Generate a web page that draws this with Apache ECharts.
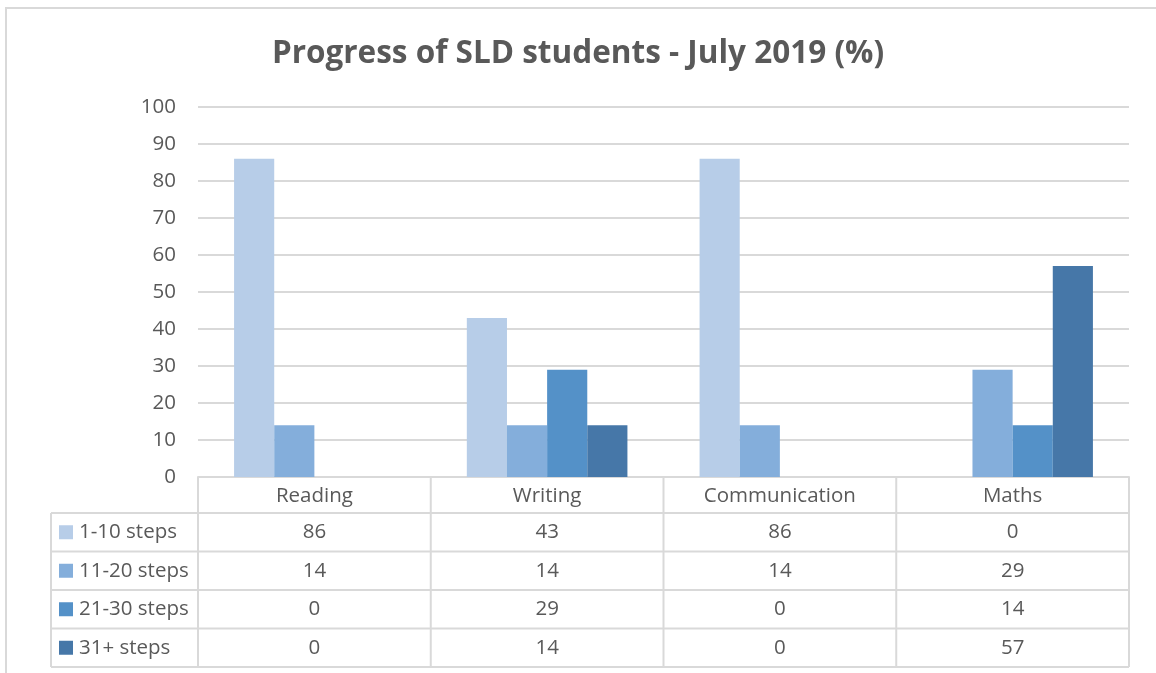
<!DOCTYPE html>
<html>
<head>
<meta charset="utf-8">
<script src="https://cdn.jsdelivr.net/npm/echarts@6/dist/echarts.min.js"></script>
<style>
html,body{margin:0;padding:0;background:#fff;}
#main{width:1156px;height:673px;}
</style>
</head>
<body>
<div id="main"></div>
<script>
var categories = ['Reading', 'Writing', 'Communication', 'Maths'];
var seriesNames = ['1-10 steps', '11-20 steps', '21-30 steps', '31+ steps'];
var steps1to10 = [86, 43, 86, 0];
var steps11to20 = [14, 14, 14, 29];
var steps21to30 = [0, 29, 0, 14];
var steps31plus = [0, 14, 0, 57];
var yTicks = [0, 10, 20, 30, 40, 50, 60, 70, 80, 90, 100];

var colors = ['#B7CDE8', '#84AEDB', '#5491C8', '#4677A8'];
var allData = [steps1to10, steps11to20, steps21to30, steps31plus];
var font = '"Open Sans", "Liberation Sans", sans-serif';
var textColor = '#595959';
var lineColor = '#D9D9D9';
var fs = 20.5;

// table geometry
var tblLeft = 51, plotLeft = 198, plotRight = 1129;
var headTop = 477, headBottom = 513, rowH = 38.5;

function buildTable(){
	var g = [];
	// outer frame of the chart
	g.push({type:'rect', shape:{x:6, y:8, width:1200, height:700},
		style:{fill:'none', stroke:lineColor, lineWidth:2}, silent:true});
	var colW = (plotRight - plotLeft) / categories.length;
	var bottom = headBottom + rowH * seriesNames.length;
	g.push({type:'line', shape:{x1:plotLeft, y1:headTop, x2:plotLeft, y2:bottom}, style:{stroke:lineColor, lineWidth:2}});
	for (var c = 1; c <= categories.length; c++){
		var x = plotLeft + colW * c;
		g.push({type:'line', shape:{x1:x, y1:headTop, x2:x, y2:bottom}, style:{stroke:lineColor, lineWidth:2}});
	}
	g.push({type:'line', shape:{x1:tblLeft, y1:headBottom, x2:tblLeft, y2:bottom}, style:{stroke:lineColor, lineWidth:2}});
	for (var r = 0; r <= seriesNames.length; r++){
		var y = headBottom + rowH * r;
		g.push({type:'line', shape:{x1:tblLeft, y1:y, x2:plotRight, y2:y}, style:{stroke:lineColor, lineWidth:2}});
	}
	for (var i = 0; i < seriesNames.length; i++){
		var cy = headBottom + rowH * i + rowH / 2;
		g.push({type:'rect', shape:{x:59, y:cy - 7, width:14, height:14}, style:{fill:colors[i]}});
		g.push({type:'text', x:79, y:cy, style:{text:seriesNames[i], font:fs + 'px ' + font, fill:textColor, verticalAlign:'middle', align:'left'}});
		for (var j = 0; j < categories.length; j++){
			g.push({type:'text', x:plotLeft + colW * (j + 0.5), y:cy,
				style:{text:String(allData[i][j]), font:fs + 'px ' + font, fill:textColor, align:'center', verticalAlign:'middle'}});
		}
	}
	return g;
}

var series = [];
for (var k = 0; k < seriesNames.length; k++){
	series.push({
		name: seriesNames[k],
		type: 'bar',
		data: allData[k],
		barGap: '0%',
		barCategoryGap: '31%',
		itemStyle: {color: colors[k]},
		silent: true
	});
}

var option = {
	animation: false,
	backgroundColor: '#fff',
	title: {
		text: 'Progress of SLD students - July 2019 (%)',
		left: 'center',
		top: 33,
		textStyle: {fontFamily: font, fontWeight: 'bold', fontSize: 31.5, color: textColor}
	},
	grid: {left: plotLeft, right: 1156 - plotRight, top: 107, bottom: 673 - headTop},
	xAxis: {
		type: 'category',
		data: categories,
		axisLine: {lineStyle: {color: lineColor, width: 2}},
		axisTick: {show: false},
		axisLabel: {fontFamily: font, fontSize: fs, color: textColor, margin: 9}
	},
	yAxis: {
		type: 'value',
		min: yTicks[0],
		max: yTicks[yTicks.length - 1],
		interval: 10,
		axisLine: {show: false},
		axisTick: {show: false},
		axisLabel: {fontFamily: font, fontSize: fs, color: textColor, margin: 22},
		splitLine: {lineStyle: {color: lineColor, width: 2}}
	},
	series: series,
	graphic: buildTable()
};

var myChart = echarts.init(document.getElementById('main'));
myChart.setOption(option);
</script>
</body>
</html>
